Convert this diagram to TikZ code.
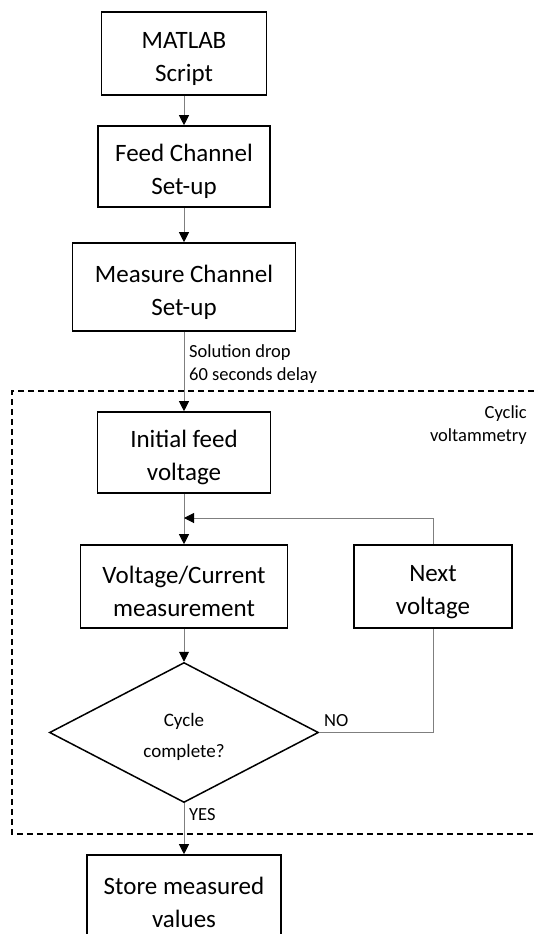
\documentclass[tikz,border=0pt]{standalone}
\usepackage{fontspec}
\setmainfont{Carlito}
\usetikzlibrary{arrows.meta,shapes.geometric}
\definecolor{conn}{HTML}{7F7F7F}
\newcommand\bigstrutx{\rule{0pt}{28pt}}
\newcommand\smallstrutx{\rule{0pt}{22pt}}
\tikzset{
  stepbox/.style={draw=black,line width=1.6pt,align=center,inner sep=0pt,
    font=\fontsize{25}{33}\selectfont},
  smalltext/.style={font=\fontsize{18.5}{23.5}\selectfont,inner sep=0pt},
  conline/.style={draw=conn,line width=1pt},
  conarrow/.style={conline,-{Triangle[color=black,length=10pt,width=10pt]}},
  decision/.style={draw=black,line width=1.5pt,shape=diamond,inner sep=0pt,
    align=center,font=\fontsize{19}{31}\selectfont},
  region/.style={draw=black,line width=1.3pt,dash pattern=on 6pt off 4pt}
}
\begin{document}
\begin{tikzpicture}[x=1pt,y=-1pt]
\useasboundingbox (0,0) rectangle (534,934);
\clip (0,0) rectangle (534,934);
\fill[white] (0,0) rectangle (534,934);

\node[stepbox,minimum width=165pt,minimum height=83pt] (m) at (184,53.5) {\bigstrutx MATLAB\\Script};
\node[stepbox,minimum width=172pt,minimum height=81pt] (f) at (184,166.5) {\bigstrutx Feed Channel\\Set-up};
\node[stepbox,minimum width=223pt,minimum height=88pt] (ms) at (184,287) {\bigstrutx Measure Channel\\Set-up};
\node[stepbox,minimum width=173pt,minimum height=81pt] (i) at (184,452.5) {\bigstrutx Initial feed\\voltage};
\node[stepbox,minimum width=207pt,minimum height=83pt] (vc) at (184,586.5) {\bigstrutx Voltage/Current\\measurement};
\node[stepbox,minimum width=158pt,minimum height=83pt] (nv) at (433,586.5) {\bigstrutx Next\\voltage};
\node[decision,minimum width=269pt,minimum height=140pt] (d) at (184,732.5) {\smallstrutx Cycle\\complete?};
\node[stepbox,minimum width=194pt,minimum height=84pt] (s) at (184,897) {\bigstrutx Store measured\\values};

% dashed region
\draw[region] (534,391) -- (12,391) -- (12,834) -- (534,834);
\node[smalltext,anchor=east,align=right] (cv) at (527,425) {Cyclic\\voltammetry};

% connectors
\draw[conarrow] (m) -- (f);
\draw[conarrow] (f) -- (ms);
\draw[conarrow] (ms) -- (i);
\node[smalltext,anchor=west,align=left] (sd) at (189,364) {Solution drop\\60 seconds delay};
\draw[conarrow] (i) -- (vc);
\coordinate (join) at (184,518);
\draw[conarrow] (nv.north) |- (join);
\draw[conarrow] (vc) -- (d);
\draw[conline] (d.east) -| (nv.south);
\node[smalltext,anchor=west] (no) at (324,721) {NO};
\draw[conarrow] (d.south) -- (s.north);
\node[smalltext,anchor=west] (yes) at (189,815) {YES};
\end{tikzpicture}
\end{document}
